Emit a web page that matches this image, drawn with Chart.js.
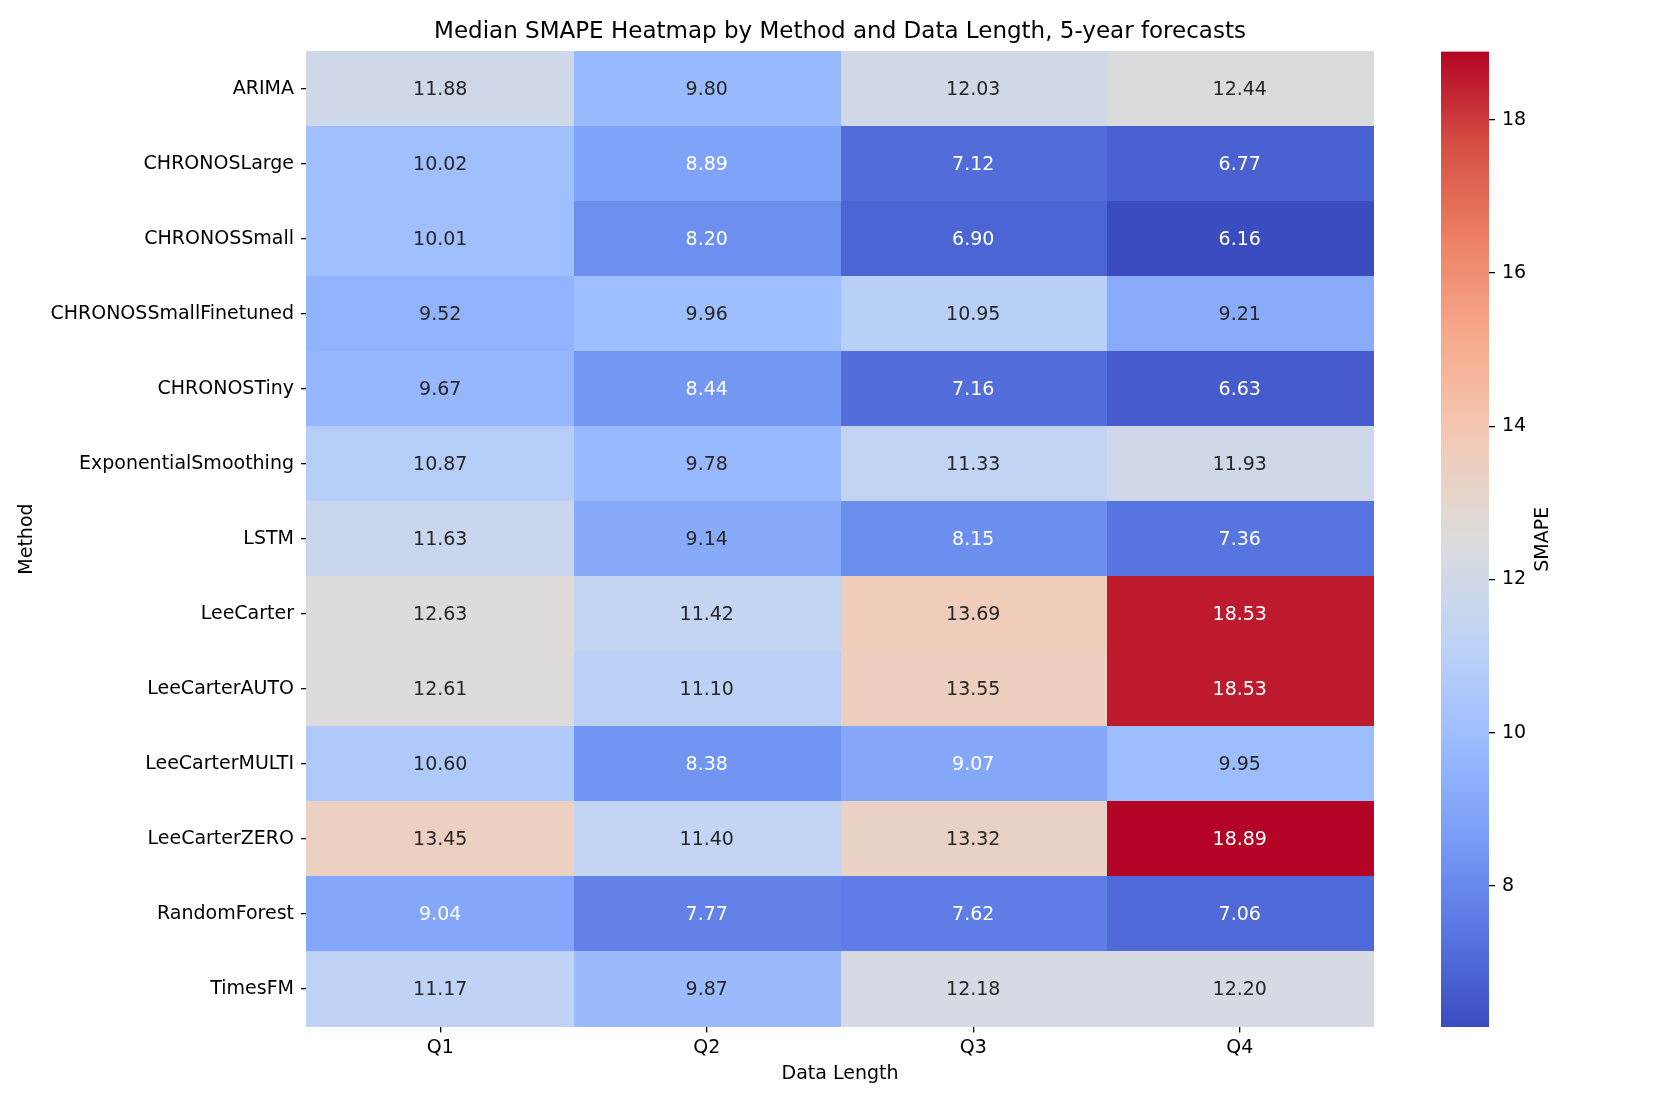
<!DOCTYPE html>
<html>
<head>
<meta charset="utf-8">
<script src="https://cdn.jsdelivr.net/npm/chart.js@4.4.1/dist/chart.umd.min.js"></script>
<style>
  body { margin: 0; background: #fff; overflow: hidden; }
  #wrap { position: relative; width: 1661px; height: 1107px; }
  #heat { position: absolute; left: 0; top: 0; }
  #cbar { position: absolute; left: 1400px; top: 0; }
</style>
</head>
<body>
<div id="wrap">
  <canvas id="heat" width="1661" height="1107"></canvas>
  <canvas id="cbar" width="261" height="1107"></canvas>
</div>
<script>
const methods = [
  'ARIMA', 'CHRONOSLarge', 'CHRONOSSmall', 'CHRONOSSmallFinetuned', 'CHRONOSTiny',
  'ExponentialSmoothing', 'LSTM', 'LeeCarter', 'LeeCarterAUTO', 'LeeCarterMULTI',
  'LeeCarterZERO', 'RandomForest', 'TimesFM'
];
const quarters = ['Q1', 'Q2', 'Q3', 'Q4'];
const smapeQ1 = [11.88, 10.02, 10.01, 9.52, 9.67, 10.87, 11.63, 12.63, 12.61, 10.60, 13.45, 9.04, 11.17];
const smapeQ2 = [9.80, 8.89, 8.20, 9.96, 8.44, 9.78, 9.14, 11.42, 11.10, 8.38, 11.40, 7.77, 9.87];
const smapeQ3 = [12.03, 7.12, 6.90, 10.95, 7.16, 11.33, 8.15, 13.69, 13.55, 9.07, 13.32, 7.62, 12.18];
const smapeQ4 = [12.44, 6.77, 6.16, 9.21, 6.63, 11.93, 7.36, 18.53, 18.53, 9.95, 18.89, 7.06, 12.20];
const colorbarTicks = [8, 10, 12, 14, 16, 18];

// matplotlib coolwarm sampled at 0, 0.1, ... 1
const coolwarm = ['#3b4cc0', '#5977e3', '#7b9ff9', '#9ebeff', '#c0d4f5', '#dddcdc',
                  '#f2cbb7', '#f7ac8e', '#ee8468', '#d65244', '#b40426'];

const series = [smapeQ1, smapeQ2, smapeQ3, smapeQ4];
const allValues = series.flat();
const vmin = Math.min(...allValues);
const vmax = Math.max(...allValues);

Chart.defaults.font.family = "'DejaVu Sans', sans-serif";
Chart.defaults.font.size = 19;
Chart.defaults.color = '#000';

const stops = coolwarm.map(h => [1, 3, 5].map(k => parseInt(h.slice(k, k + 2), 16)));

function cmap(v) {
  const t = Math.min(1, Math.max(0, (v - vmin) / (vmax - vmin))) * (stops.length - 1);
  const i = Math.min(Math.floor(t), stops.length - 2);
  const f = t - i;
  return stops[i].map((c, k) => Math.round(c + (stops[i + 1][k] - c) * f));
}

// same rule seaborn uses to pick annotation colour
function luminance(rgb) {
  const lin = rgb.map(c => {
    c = c / 255;
    return c <= 0.03928 ? c / 12.92 : Math.pow((c + 0.055) / 1.055, 2.4);
  });
  return 0.2126 * lin[0] + 0.7152 * lin[1] + 0.0722 * lin[2];
}

const cellCache = {};
function cellImage(ctx) {
  const area = ctx.chart.chartArea;
  if (!area || !ctx.raw) return 'rect';
  const w = Math.ceil(area.width / quarters.length) + 1;
  const h = Math.ceil(area.height / methods.length) + 1;
  const rgb = cmap(ctx.raw.v);
  const key = w + 'x' + h + ':' + rgb.join(',');
  if (!cellCache[key]) {
    const c = document.createElement('canvas');
    c.width = w;
    c.height = h;
    const g = c.getContext('2d');
    g.fillStyle = 'rgb(' + rgb.join(',') + ')';
    g.fillRect(0, 0, w, h);
    cellCache[key] = c;
  }
  return cellCache[key];
}

const cellLabels = {
  id: 'cellLabels',
  afterDatasetsDraw(chart) {
    const ctx = chart.ctx;
    ctx.save();
    ctx.font = "19px 'DejaVu Sans'";
    ctx.textAlign = 'center';
    ctx.textBaseline = 'middle';
    chart.data.datasets.forEach((ds, j) => {
      chart.getDatasetMeta(j).data.forEach((pt, i) => {
        const v = ds.data[i].v;
        ctx.fillStyle = luminance(cmap(v)) < 0.408 ? '#ffffff' : '#262626';
        ctx.fillText(v.toFixed(2), pt.x, pt.y + 1);
      });
    });
    ctx.restore();
  }
};

const tickGrid = {
  display: true,
  drawOnChartArea: false,
  drawTicks: true,
  tickLength: 6,
  color: '#000',
  lineWidth: 1.3,
  offset: false
};

new Chart(document.getElementById('heat'), {
  type: 'scatter',
  data: {
    datasets: quarters.map((q, j) => ({
      label: q,
      data: methods.map((m, i) => ({ x: q, y: m, v: series[j][i] })),
      pointStyle: cellImage,
      pointRadius: 1,
      pointBorderWidth: 0
    }))
  },
  options: {
    responsive: false,
    animation: false,
    events: [],
    layout: { padding: { left: 0, right: 288, top: 0, bottom: 17.5 } },
    plugins: {
      legend: { display: false },
      tooltip: { enabled: false },
      title: {
        display: true,
        text: 'Median SMAPE Heatmap by Method and Data Length, 5-year forecasts',
        color: '#000',
        font: { size: 23, weight: 'normal' },
        padding: { top: 18, bottom: 6 },
        fullSize: false
      }
    },
    scales: {
      x: {
        type: 'category',
        labels: quarters,
        offset: true,
        position: 'bottom',
        grid: tickGrid,
        border: { display: false },
        ticks: { color: '#000', padding: 4 },
        title: { display: true, text: 'Data Length', color: '#000', padding: { bottom: 4 } },
        afterFit: s => { s.height = 63; }
      },
      y: {
        type: 'category',
        labels: methods,
        offset: true,
        position: 'left',
        grid: tickGrid,
        border: { display: false },
        ticks: { color: '#000', padding: 7 },
        title: { display: true, text: 'Method', color: '#000', padding: { top: 16 } },
        afterFit: s => { s.width = 307; }
      }
    }
  },
  plugins: [cellLabels]
});

function barGradient(ctx) {
  const a = ctx.chart.chartArea;
  if (!a) return coolwarm[0];
  const g = ctx.chart.ctx.createLinearGradient(0, a.bottom, 0, a.top);
  coolwarm.forEach((c, i) => g.addColorStop(i / (coolwarm.length - 1), c));
  return g;
}

const colorbarLabel = {
  id: 'colorbarLabel',
  afterDraw(chart) {
    const a = chart.chartArea;
    const ctx = chart.ctx;
    ctx.save();
    ctx.translate(a.right + 54, (a.top + a.bottom) / 2);
    ctx.rotate(-Math.PI / 2);
    ctx.font = "19px 'DejaVu Sans'";
    ctx.fillStyle = '#000';
    ctx.textAlign = 'center';
    ctx.textBaseline = 'middle';
    ctx.fillText('SMAPE', 0, 0);
    ctx.restore();
  }
};

new Chart(document.getElementById('cbar'), {
  type: 'bar',
  data: {
    labels: ['SMAPE'],
    datasets: [{
      data: [[vmin, vmax]],
      backgroundColor: barGradient,
      borderWidth: 0,
      barPercentage: 1,
      categoryPercentage: 1
    }]
  },
  options: {
    responsive: false,
    animation: false,
    events: [],
    layout: { padding: { left: 41, top: 51.5, bottom: 80, right: 0 } },
    plugins: { legend: { display: false }, tooltip: { enabled: false } },
    scales: {
      x: { display: false },
      y: {
        position: 'right',
        min: vmin,
        max: vmax,
        afterBuildTicks: s => { s.ticks = colorbarTicks.map(v => ({ value: v })); },
        grid: tickGrid,
        border: { display: false },
        ticks: { color: '#000', padding: 7 },
        afterFit: s => { s.width = 172; }
      }
    }
  },
  plugins: [colorbarLabel]
});
</script>
</body>
</html>
